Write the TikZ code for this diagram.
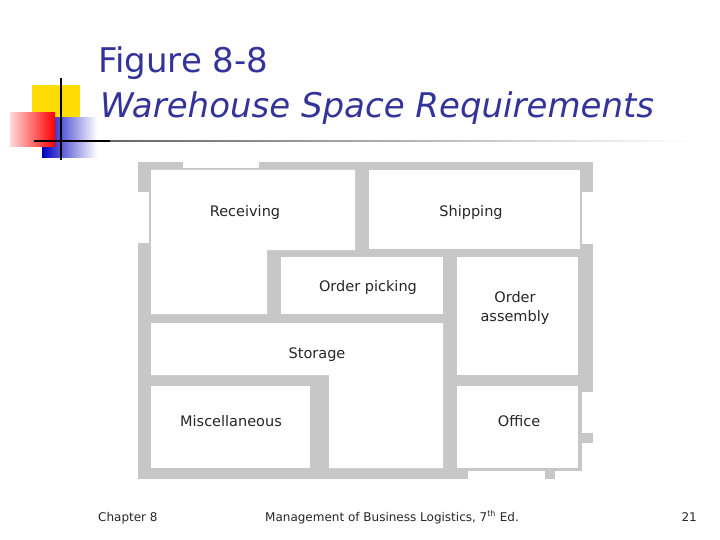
\documentclass[tikz,border=0pt]{standalone}
\usepackage{fontspec}
\setmainfont{DejaVu Sans}
\begin{document}
\begin{tikzpicture}[x=1pt,y=-1pt,
  wall/.style={fill=black!22,draw=none},
  room/.style={fill=white,draw=none},
  lbl/.style={font=\fontsize{14.5}{19}\selectfont,text=black!85,align=center},
  foot/.style={font=\fontsize{12}{13}\selectfont,text=black!85,anchor=base west}]
\useasboundingbox (0,0) rectangle (720,540);
% logo
\fill[yellow!80!orange] (32,85) rectangle (80,119);
\shade[left color=blue!75!black,right color=white] (42,118) rectangle (97,158);
\shade[left color=red!15,right color=red] (10,113) rectangle (55,147);
\draw[line width=1.5pt] (61,78) -- (61,160);
\draw[line width=1.5pt] (34,141) -- (110,141);
\shade[left color=black!60,right color=white] (110,140.3) rectangle (690,141.7);
% title
\node[anchor=base west,inner sep=0,text={rgb,255:red,51;green,51;blue,153},font=\fontsize{34}{38}\selectfont] (t1) at (98,73) {Figure 8-8};
\node[anchor=base west,inner sep=0,text={rgb,255:red,51;green,51;blue,153},font=\fontsize{34}{38}\selectfont\itshape] (t2) at (100,118) {Warehouse Space Requirements};
% plan
\fill[wall] (138,162) rectangle (593,479);
\fill[room] (183,162) rectangle (259,168);
\fill[room] (138,192) rectangle (149,243);
\fill[room] (582,192) rectangle (593,244);
\fill[room] (582,392) rectangle (593,433);
\fill[room] (582,443) rectangle (593,479);
\fill[room] (468,471) rectangle (545,479);
\fill[room] (555,471) rectangle (593,479);
\fill[room] (151,170) -- (355,170) -- (355,250) -- (267,250) -- (267,314) -- (151,314) -- cycle;
\fill[room] (369,170) rectangle (580,249);
\fill[room] (281,257) rectangle (443,314);
\fill[room] (457,257) rectangle (578,375);
\fill[room] (151,323) -- (443,323) -- (443,468) -- (329,468) -- (329,375) -- (151,375) -- cycle;
\fill[room] (151,386) rectangle (310,468);
\fill[room] (457,386) rectangle (578,468);
\node[lbl] (rec) at (245,212) {Receiving};
\node[lbl] (shp) at (471,212) {Shipping};
\node[lbl] (op) at (368,287) {Order picking};
\node[lbl] (oa) at (515,308) {Order\\assembly};
\node[lbl] (st) at (317,355) {Storage};
\node[lbl] (mi) at (231,421) {Miscellaneous};
\node[lbl] (of) at (519,421) {Office};
% footer
\node[foot,inner sep=0] (f1) at (98,521) {Chapter 8};
\node[foot,inner sep=0] (f2) at (265,521) {Management of Business Logistics, 7\textsuperscript{th} Ed.};
\node[foot,inner sep=0,anchor=base east] (f3) at (697,521) {21};
\end{tikzpicture}
\end{document}
